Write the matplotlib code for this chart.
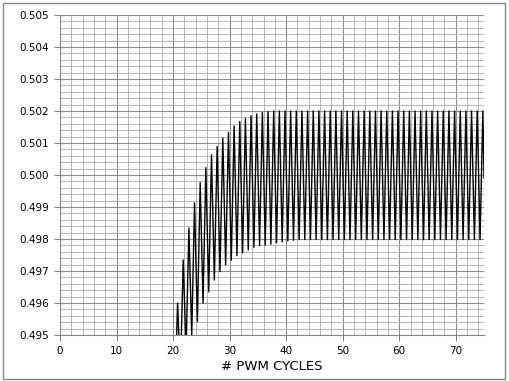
"""Recreate PWM ripple chart (output voltage vs # PWM cycles)."""

import matplotlib as mpl
mpl.use('Agg')
import matplotlib.pyplot as plt
from matplotlib.ticker import MultipleLocator
from matplotlib.patches import Rectangle

# cycle numbers (one peak and one trough per PWM cycle)
cycles = list(range(20, 75))

# trough value of each cycle (sampled at cycle + 0.3)
troughs = [0.4930, 0.4938, 0.4945, 0.4950, 0.49542, 0.4960, 0.49635, 0.49672,
           0.49698, 0.49719, 0.49734, 0.49748, 0.49757, 0.49766, 0.49774,
           0.49779, 0.49781, 0.49784, 0.49788, 0.49791, 0.49794, 0.49796,
           0.49798, 0.49798, 0.49798, 0.49798, 0.49798, 0.49798, 0.49798,
           0.49798, 0.49798, 0.49798, 0.49798, 0.49798, 0.49798, 0.49798,
           0.49798, 0.49798, 0.49798, 0.49798, 0.49798, 0.49798, 0.49798,
           0.49798, 0.49798, 0.49798, 0.49798, 0.49798, 0.49798, 0.49798,
           0.49798, 0.49798, 0.49798, 0.49798, 0.49798]

# peak value of each cycle (sampled at cycle + 0.8)
peaks = [0.4960, 0.49734, 0.49834, 0.49913, 0.49976, 0.50023, 0.50063, 0.50089,
         0.50115, 0.50133, 0.50153, 0.50167, 0.50177, 0.50185, 0.50191,
         0.50195, 0.50198, 0.50200, 0.50200, 0.50200, 0.50200, 0.50200,
         0.50200, 0.50200, 0.50200, 0.50200, 0.50200, 0.50200, 0.50200,
         0.50200, 0.50200, 0.50200, 0.50200, 0.50200, 0.50200, 0.50200,
         0.50200, 0.50200, 0.50200, 0.50200, 0.50200, 0.50200, 0.50200,
         0.50200, 0.50200, 0.50200, 0.50200, 0.50200, 0.50200, 0.50200,
         0.50200, 0.50200, 0.50200, 0.50200, 0.50200]

# last sample at the right edge
end_x = 75.0
end_v = 0.4999

# axis ticks and their labels
yticks = [0.495, 0.496, 0.497, 0.498, 0.499, 0.500,
          0.501, 0.502, 0.503, 0.504, 0.505]
ylabels = ['0.495', '0.496', '0.497', '0.498', '0.499', '0.500',
           '0.501', '0.502', '0.503', '0.504', '0.505']
xticks = [0, 10, 20, 30, 40, 50, 60, 70]

# build the zig-zag trace: trough -> peak -> trough ...
xs, ys = [], []
for c, lo, hi in zip(cycles, troughs, peaks):
    xs += [c + 0.3, c + 0.8]
    ys += [lo, hi]
xs.append(end_x)
ys.append(end_v)

fig = plt.figure(figsize=(5.09, 3.81), dpi=100)
fig.patches.append(Rectangle((3 / 509, 2 / 381), 502 / 509, 376 / 381,
                             transform=fig.transFigure, fill=False,
                             edgecolor='#868686', linewidth=1.0))
ax = fig.add_axes([60 / 509, 46 / 381, 424 / 509, 320 / 381])

ax.plot(xs, ys, color='black', linewidth=1.0, clip_on=True)

ax.set_xlim(0, 75)
ax.set_ylim(0.495, 0.505)
ax.set_xticks(xticks)
ax.set_yticks(yticks, labels=ylabels)
ax.xaxis.set_minor_locator(MultipleLocator(2))
ax.yaxis.set_minor_locator(MultipleLocator(0.0002))

ax.grid(which='major', color='#8c8c8c', linewidth=0.8)
ax.grid(which='minor', color='#b4b4b4', linewidth=0.7)
ax.axvline(75, color='#b4b4b4', linewidth=0.7)
ax.set_axisbelow(True)

for side in ('top', 'right'):
    ax.spines[side].set_visible(False)
for side in ('left', 'bottom'):
    ax.spines[side].set_color('#868686')
    ax.spines[side].set_linewidth(0.8)

ax.tick_params(which='major', direction='out', length=4, width=0.8,
               color='#868686', labelsize=7.5, pad=4)
ax.tick_params(which='minor', length=0)
ax.set_xlabel('# PWM CYCLES', fontsize=9.5, labelpad=3)

plt.savefig('out.png', dpi=100)
plt.close()
